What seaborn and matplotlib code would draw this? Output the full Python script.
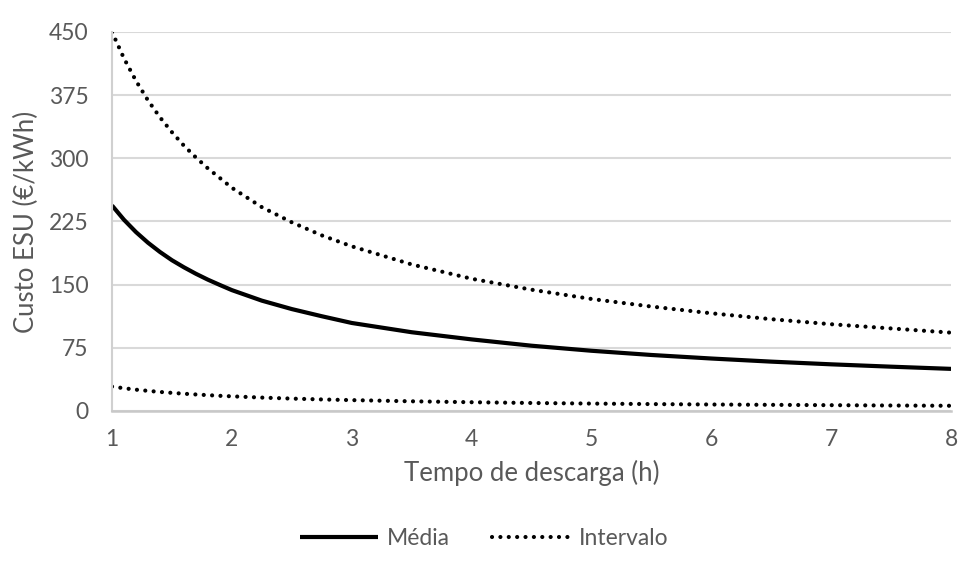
import numpy as np
import pandas as pd
import matplotlib
matplotlib.use("Agg")
import matplotlib.pyplot as plt
import seaborn as sns
from matplotlib.lines import Line2D

# Discharge time (h)
horas = [1, 1.1, 1.2, 1.3, 1.4, 1.5, 1.6, 1.7, 1.8, 1.9, 2, 2.25, 2.5, 2.75,
         3, 3.5, 4, 4.5, 5, 5.5, 6, 6.5, 7, 7.5, 8]
# ESU cost (€/kWh)
media = [244, 227, 212.4, 199.8, 188.8, 179, 170.6, 162.9, 155.9, 149.6, 143.5, 131, 121, 112.5,
         104.5, 93.5, 85, 77.5, 71.5, 66.5, 62.3, 58.6, 55.4, 52.6, 50]
intervalo_sup = [450, 418.6, 392, 368.8, 348.7, 331, 315, 301, 288, 276.6, 265, 242, 224, 208.5,
                 195.5, 174, 157, 144, 133, 124, 116, 109, 103, 98, 93]
intervalo_inf = [29, 27.0, 25.3, 23.9, 22.6, 21.5, 20.5, 19.6, 18.8, 18.0, 17.4, 15.9, 14.7, 13.7,
                 12.9, 11.5, 10.4, 9.5, 8.8, 8.2, 7.7, 7.3, 6.9, 6.5, 6.2]

y_ticks = [0, 75, 150, 225, 300, 375, 450]
x_ticks = [1, 2, 3, 4, 5, 6, 7, 8]

df = pd.DataFrame({
    "horas": horas * 3,
    "custo": media + intervalo_sup + intervalo_inf,
    "serie": ["Média"] * len(horas) + ["Sup"] * len(horas) + ["Inf"] * len(horas),
})

sns.set_theme(style="white")
plt.rcParams["font.family"] = ["Lato", "DejaVu Sans"]

txt = "#595959"
fig = plt.figure(figsize=(9.59, 5.74), dpi=100)
ax = fig.add_axes([0.1168, 0.284, 0.8749, 0.6603])

dotted = (0, (0.01, 2.0))
sns.lineplot(data=df[df.serie == "Média"], x="horas", y="custo", ax=ax,
             color="black", lw=3.0, solid_capstyle="butt")
sns.lineplot(data=df[df.serie == "Sup"], x="horas", y="custo", ax=ax,
             color="black", lw=3.0, linestyle=dotted, dash_capstyle="round")
sns.lineplot(data=df[df.serie == "Inf"], x="horas", y="custo", ax=ax,
             color="black", lw=3.0, linestyle=dotted, dash_capstyle="round")

ax.set_xlim(1, 8)
ax.set_ylim(0, 450)
ax.set_xticks(x_ticks)
ax.set_yticks(y_ticks)
ax.yaxis.grid(True, color="#d9d9d9", lw=1.5)
ax.set_axisbelow(True)
for s in ["top", "right"]:
    ax.spines[s].set_visible(False)
ax.spines["left"].set_color("#d0d0d0")
ax.spines["left"].set_linewidth(1.5)
ax.spines["bottom"].set_color("#c8c8c8")
ax.spines["bottom"].set_linewidth(1.8)
ax.tick_params(axis="both", length=0, labelsize=16.5, colors=txt)
ax.tick_params(axis="x", pad=13)
ax.tick_params(axis="y", pad=17)

ax.set_xlabel("Tempo de descarga (h)", fontsize=18.5, color=txt, labelpad=7)
ax.set_ylabel("Custo ESU (€/kWh)", fontsize=18.5, color=txt, labelpad=7)

handles = [
    Line2D([], [], color="black", lw=3.0, solid_capstyle="butt"),
    Line2D([], [], color="black", lw=3.0, linestyle=dotted, dash_capstyle="round"),
]
leg = fig.legend(handles, ["Média", "Intervalo"], loc="center", bbox_to_anchor=(0.505, 0.062),
                 ncol=2, frameon=False, fontsize=16.5, handlelength=3.4, handletextpad=0.4,
                 columnspacing=1.8)
for t in leg.get_texts():
    t.set_color(txt)

fig.savefig("out.png", dpi=100)
